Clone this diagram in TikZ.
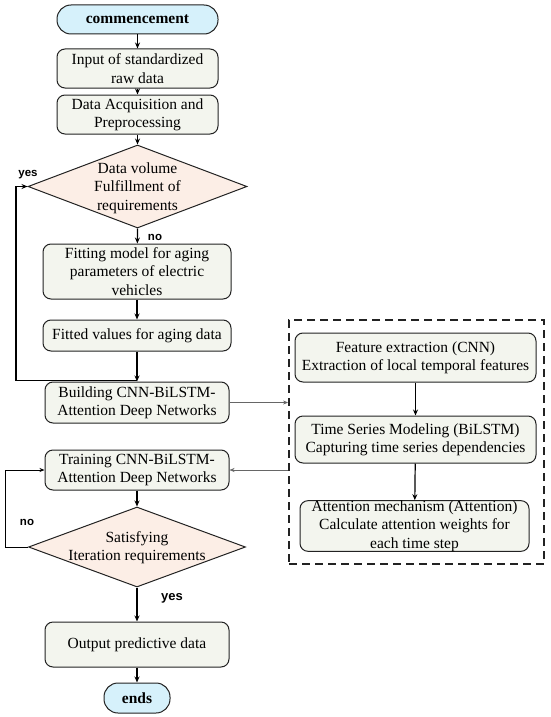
\documentclass[tikz,border=0pt]{standalone}
\usepackage{fontspec}
\setmainfont{Liberation Serif}
\newfontfamily\lblfont{Liberation Sans}
\usetikzlibrary{arrows.meta,shapes.geometric}
\definecolor{pillfill}{HTML}{D6F1FB}
\definecolor{boxfill}{HTML}{F3F5EE}
\definecolor{diafill}{HTML}{FCEEE6}
\definecolor{edge}{HTML}{222222}
\tikzset{
  txt/.style={font=\fontsize{15.5}{18.3}\selectfont, align=center, text=black, inner sep=0pt},
  pill/.style={txt, draw=edge, line width=1pt, fill=pillfill, rounded corners=14pt, font=\fontsize{15.5}{18.3}\selectfont\bfseries},
  stepbox/.style={txt, draw=edge, line width=1pt, fill=boxfill, rounded corners=8pt},
  dia/.style={diamond, draw=edge, line width=1pt, fill=diafill, inner sep=0pt},
  flow/.style={line width=1.2pt, -{Stealth[length=6pt,width=5pt]}},
  thin/.style={draw=gray!80!black, line width=0.6pt, -{Stealth[length=5pt,width=4pt]}},
  lbl/.style={font=\lblfont\bfseries\fontsize{11.5}{13}\selectfont, inner sep=0pt},
  dbx/.style={draw=edge, line width=1.8pt, dash pattern=on 8pt off 5pt},
}
\begin{document}
\begin{tikzpicture}[x=1pt,y=-1pt]
\useasboundingbox (0,0) rectangle (550,717);
% left column
\node[pill, minimum width=161pt, minimum height=29pt] (start) at (137.5,19.5) {commencement};
\node[stepbox, minimum width=161pt, minimum height=39pt] (in1) at (137.5,68.5) {Input of standardized\\raw data};
\node[stepbox, minimum width=161pt, minimum height=39pt] (acq) at (137.5,114.5) {Data Acquisition and\\Preprocessing};
\node[dia, minimum width=219pt, minimum height=83pt] (d1) at (137.5,186.5) {};
\node[txt] (d1t) at (137.5,188) {Data volume\\Fulfillment of\\requirements};
\node[stepbox, minimum width=188pt, minimum height=55pt] (fit) at (137,271.5) {Fitting model for aging\\parameters of electric\\vehicles};
\node[stepbox, minimum width=188pt, minimum height=31pt] (fv) at (137,335.5) {Fitted values for aging data};
\node[stepbox, minimum width=184pt, minimum height=41pt] (bld) at (137,402.5) {Building CNN-BiLSTM-\\Attention Deep Networks};
\node[stepbox, minimum width=184pt, minimum height=40pt] (trn) at (137,470) {Training CNN-BiLSTM-\\Attention Deep Networks};
\node[dia, minimum width=217pt, minimum height=80pt] (d2) at (137,547) {};
\node[txt] (d2t) at (137,548) {Satisfying\\Iteration requirements};
\node[stepbox, minimum width=184pt, minimum height=45pt] (out) at (137,644.5) {Output predictive data};
\node[pill, minimum width=66pt, minimum height=30pt] (ends) at (137,698) {ends};
% right dashed box
\node[dbx, minimum width=255pt, minimum height=244pt, inner sep=0pt] (dbox) at (416.5,442) {};
\node[stepbox, minimum width=241pt, minimum height=49pt] (fe) at (415.5,357.5) {Feature extraction (CNN)\\Extraction of local temporal features};
\node[stepbox, minimum width=241pt, minimum height=47pt] (ts) at (415.5,439.5) {Time Series Modeling (BiLSTM)\\Capturing time series dependencies};
\node[stepbox, minimum width=229pt, minimum height=48pt] (att) at (414.5,526) {Attention mechanism (Attention)\\Calculate attention weights for\\each time step};
% labels
\node[lbl] (yes1) at (28,175) {yes};
\node[lbl] (no1) at (155,237) {no};
\node[lbl] (no2) at (27,522) {no};
\node[lbl, font=\lblfont\bfseries\fontsize{13}{15}\selectfont] (yes2) at (172,598) {yes};
% coordinates
\coordinate (j0) at (137,380.5);
\coordinate (j1) at (16,380.5);
\coordinate (j2) at (5,547);
% connectors
\draw[flow] (start) -- (in1);
\draw[flow] (in1) -- (acq);
\draw[flow] (acq) -- (d1.north);
\draw[flow] (d1.south) -- (fit);
\draw[flow] (fit) -- (fv);
\draw[flow] (fv) -- (bld);
\draw[flow] (j0) -- (j1) |- (d1.west);
\draw[thin] (bld.east) -- (dbox.west |- bld.east);
\draw[thin] (dbox.west |- trn.east) -- (trn.east);
\draw[flow] (trn) -- (d2.north);
\draw[flow] (d2.south) -- (out);
\draw[flow] (out) -- (ends);
\draw[line width=0.9pt, -{Stealth[length=5pt,width=4pt]}] (d2.west) -- (j2) |- (trn.west);
\draw[flow] (fe) -- (ts);
\draw[flow] (ts) -- (att);
\end{tikzpicture}
\end{document}
